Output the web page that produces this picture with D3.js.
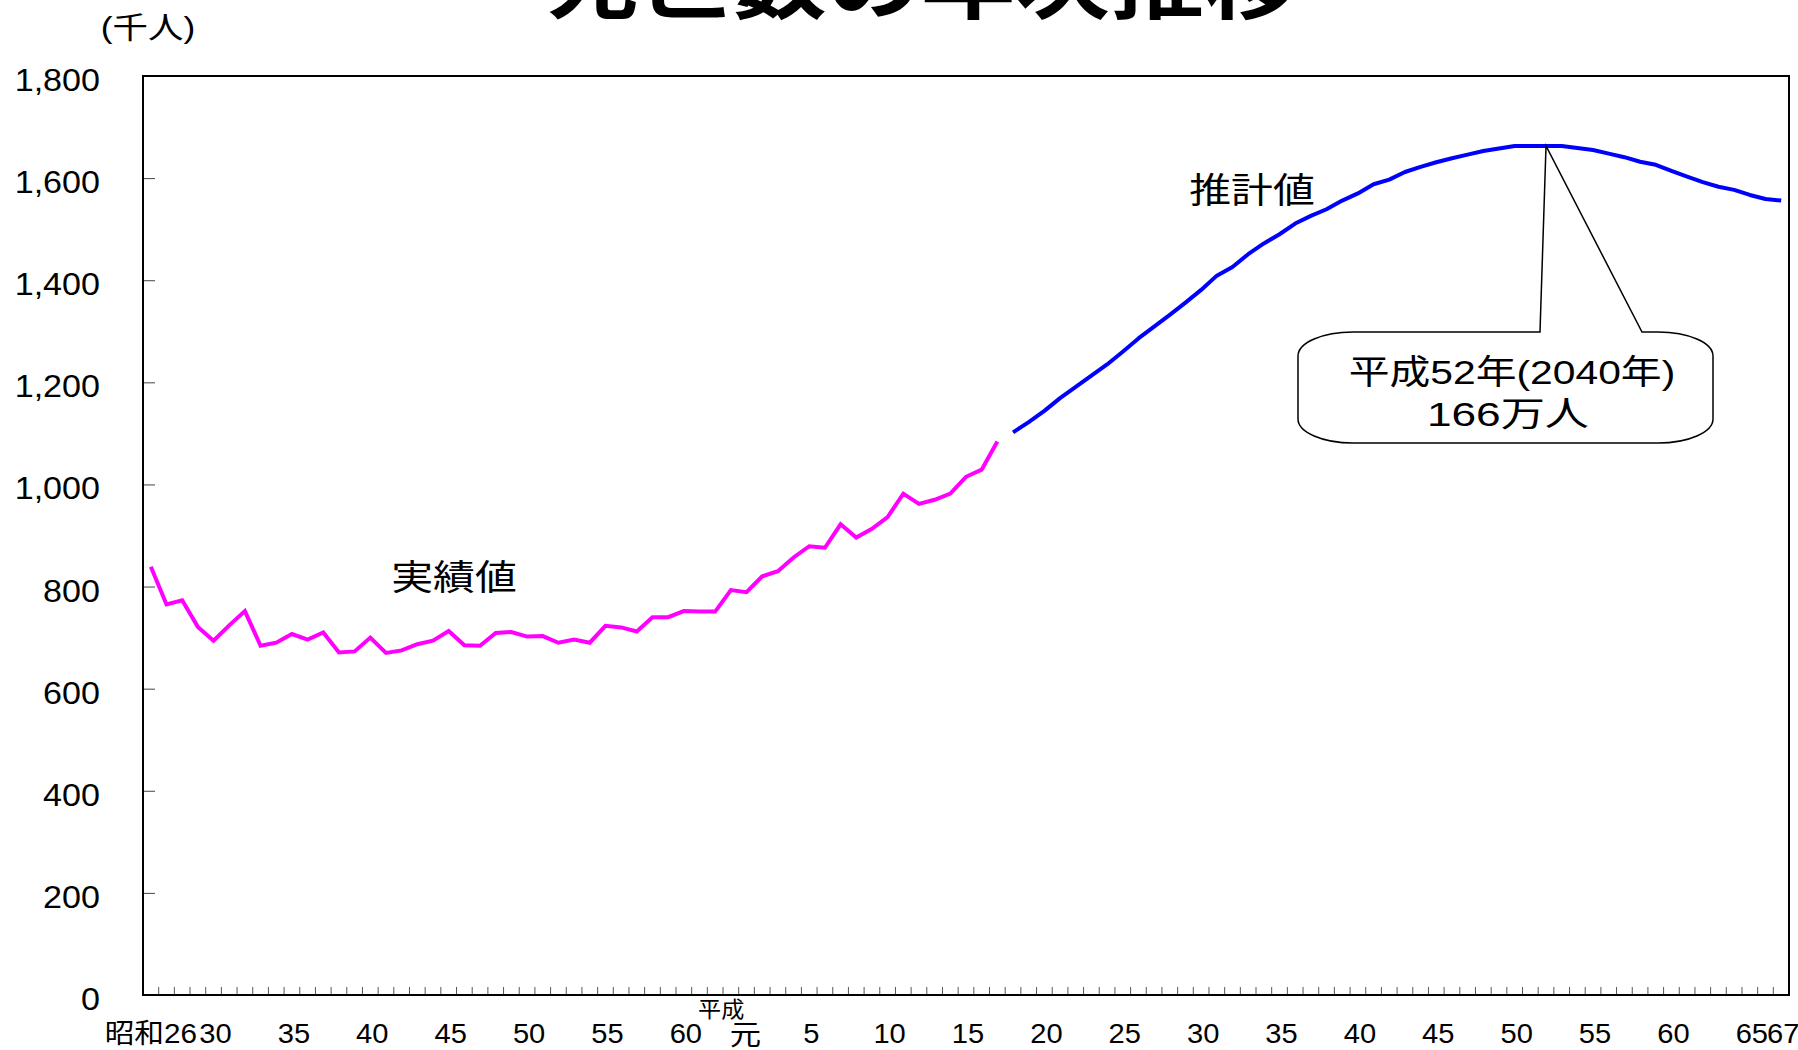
<!DOCTYPE html>
<html>
<head>
<meta charset="utf-8">
<script src="https://cdn.jsdelivr.net/npm/d3@7/dist/d3.min.js"></script>
<style>
html,body{margin:0;padding:0;background:#fff;}
svg{display:block;}
text{font-family:'Liberation Sans','Noto Sans CJK JP',sans-serif;fill:#000;}
</style>
</head>
<body>
<svg id="chart" width="1798" height="1050"></svg>
<script>
// ---- data ----
const years = [1951,1952,1953,1954,1955,1956,1957,1958,1959,1960,
  1961,1962,1963,1964,1965,1966,1967,1968,1969,1970,
  1971,1972,1973,1974,1975,1976,1977,1978,1979,1980,
  1981,1982,1983,1984,1985,1986,1987,1988,1989,1990,
  1991,1992,1993,1994,1995,1996,1997,1998,1999,2000,
  2001,2002,2003,2004,2005,2006,2007,2008,2009,2010,
  2011,2012,2013,2014,2015,2016,2017,2018,2019,2020,
  2021,2022,2023,2024,2025,2026,2027,2028,2029,2030,
  2031,2032,2033,2034,2035,2036,2037,2038,2039,2040,
  2041,2042,2043,2044,2045,2046,2047,2048,2049,2050,
  2051,2052,2053,2054,2055];
// 実績値 1951-2005 (千人)
const actualYears = years.slice(0, 55);
const actualValues = [839,765,773,721,694,724,752,684,690,707,
  696,710,671,673,700,670,675,687,694,713,
  685,684,709,711,702,703,690,696,690,723,
  720,712,740,740,752,751,751,793,789,820,
  830,857,879,876,922,896,913,936,982,962,
  970,982,1015,1029,1084];
// 推計値 2006-2055 (千人)
const projYears = years.slice(55);
const projValues = [1102,1122,1144,1169,1191,1213,1235,1260,1286,1309,
  1332,1356,1381,1409,1426,1451,1472,1490,1511,1526,
  1539,1556,1570,1588,1597,1612,1622,1631,1639,1646,
  1653,1658,1663,1663,1663,1663,1659,1655,1648,1641,
  1632,1626,1614,1603,1592,1583,1577,1567,1559,1556];
const yTicks = [0,200,400,600,800,1000,1200,1400,1600,1800];
const xTickYears = [1951,1955,1960,1965,1970,1975,1980,1985,1989,1993,1998,2003,2008,2013,2018,2023,2028,2033,2038,2043,2048,2053,2055];
const xTickLabels = ['昭和26','30','35','40','45','50','55','60','元','5','10','15','20','25','30','35','40','45','50','55','60','65','67'];
const peakYear = 2040;
const peakValue = 1663;
const title = '死亡数の年次推移';
const unitLabel = '(千人)';
const calloutLines = ['平成52年(2040年)', '166万人'];

// ---- layout ----
const L = 143, R = 1789, T = 76, B = 995;
const svg = d3.select('#chart');
svg.append('rect').attr('width',1798).attr('height',1050).attr('fill','#fff');

const x = d3.scaleBand().domain(years).range([L, R]).padding(0);
const cx = yr => x(yr) + x.bandwidth()/2;
const y = d3.scaleLinear().domain([0, 1800]).range([B, T]);

function txt(px, py, s, size, sx, anchor, weight) {
  return svg.append('text')
    .attr('transform', `translate(${px},${py}) scale(${sx},1)`)
    .attr('text-anchor', anchor || 'middle')
    .style('font-size', size + 'px')
    .style('font-weight', weight || 'normal')
    .text(s);
}

// title (partly cut at top, as in the reference)
txt(921, 12, title, 80, 1.18, 'middle', 'bold');
// unit
txt(148, 38, unitLabel, 30, 1.18, 'middle');

// y axis ticks (inside) and labels
const yAxis = d3.axisRight(y).tickValues(yTicks).tickSize(12).tickFormat('');
const gy = svg.append('g').attr('transform', `translate(${L},0)`).call(yAxis);
gy.select('.domain').remove();
gy.selectAll('.tick line').attr('stroke', '#444').attr('stroke-width', 1);
yTicks.forEach(v => {
  txt(100, y(v) + 15, d3.format(',')(v), 31, 1.1, 'end');
});

// x axis ticks at category boundaries (inside, upward)
const boundaries = years.slice(1).map(yr => x(yr));
svg.append('g').selectAll('line').data(boundaries).join('line')
  .attr('x1', d => d).attr('x2', d => d)
  .attr('y1', B).attr('y2', B - 8)
  .attr('stroke', '#555').attr('stroke-width', 1);

// x labels
xTickYears.forEach((yr, i) => {
  const lab = xTickLabels[i];
  if (lab === '元') {
    txt(cx(yr) - 1, 1045, lab, 28, 1.12, 'middle');
  } else if (/^[0-9]+$/.test(lab)) {
    txt(cx(yr) + 2, 1043, lab, 28, 1.04, 'middle');
  } else {
    txt(cx(yr), 1043, lab, 27, 1.1, 'middle');
  }
});
txt(cx(1987) + 6, 1017, '平成', 22, 1.05, 'middle');

// frame
svg.append('rect').attr('x', L).attr('y', T).attr('width', R - L).attr('height', B - T)
  .attr('fill', 'none').attr('stroke', '#000').attr('stroke-width', 2);

// lines
const line = d3.line().x(d => cx(d[0])).y(d => y(d[1]));
svg.append('path').datum(actualYears.map((yr, i) => [yr, actualValues[i]]))
  .attr('d', line).attr('fill', 'none').attr('stroke', '#FF00FF')
  .attr('stroke-width', 4).attr('stroke-linejoin', 'miter');
svg.append('path').datum(projYears.map((yr, i) => [yr, projValues[i]]))
  .attr('d', line).attr('fill', 'none').attr('stroke', '#0000FF')
  .attr('stroke-width', 4).attr('stroke-linejoin', 'round');

// series labels
txt(454, 590, '実績値', 35.5, 1.18, 'middle');
txt(1252, 203, '推計値', 35.5, 1.18, 'middle');

// callout
const bx1 = 1298, bx2 = 1713, by1 = 332, by2 = 443, rx = 55, ry = 24;
const wl = 1540, wr = 1642;
const tipX = cx(peakYear), tipY = y(peakValue);
const callD = `M${bx1+rx},${by1} L${wl},${by1} L${tipX},${tipY} L${wr},${by1} L${bx2-rx},${by1}` +
  ` A${rx},${ry} 0 0 1 ${bx2},${by1+ry} L${bx2},${by2-ry} A${rx},${ry} 0 0 1 ${bx2-rx},${by2}` +
  ` L${bx1+rx},${by2} A${rx},${ry} 0 0 1 ${bx1},${by2-ry} L${bx1},${by1+ry} A${rx},${ry} 0 0 1 ${bx1+rx},${by1} Z`;
svg.append('path').attr('d', callD).attr('fill', '#fff').attr('stroke', '#000').attr('stroke-width', 1.5);
txt(1512, 384, calloutLines[0], 34, 1.2, 'middle');
txt(1508, 426, calloutLines[1], 34, 1.3, 'middle');
</script>
</body>
</html>
